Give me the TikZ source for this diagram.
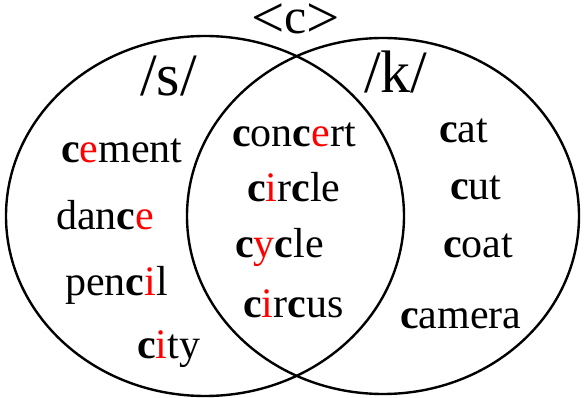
\documentclass[tikz,border=0pt]{standalone}
\usepackage{fontspec,tikz}
\setmainfont{Liberation Serif}
\newcommand{\boldc}{\textbf{c}}
\newcommand{\redl}[1]{\textcolor{red}{#1}}
\newcommand{\bigang}[1]{\raisebox{-4pt}{\fontsize{59.0}{70.8}\selectfont #1}}

\begin{document}
\begin{tikzpicture}[x=1pt,y=-1pt,
  word/.style={anchor=base west,inner sep=0pt,font=\fontsize{42.0}{50.4}\selectfont},
  sound/.style={anchor=base west,inner sep=0pt,font=\fontsize{60.0}{72.0}\selectfont},
  ring/.style={line width=2.4pt}]
\path[use as bounding box] (0,0) rectangle (584.0,398.0);
% the two sets
\draw[ring] (205,216) ellipse [x radius=199, y radius=180];
\draw[ring] (383,216) ellipse [x radius=196, y radius=178];
% headings
\node[word,font=\fontsize{50.0}{60.0}\selectfont] (letter) at (251,34) {\bigang{<}c\bigang{>}};
\node[sound] (soundS) at (140,96) {/s/};
\node[sound] (soundK) at (364,93) {/k/};
% /s/ only
\node[word] (cement) at (61,163) {\boldc\redl{e}ment};
\node[word] (dance) at (56,230) {dan\boldc\redl{e}};
\node[word] (pencil) at (65,295) {pen\boldc\redl{i}l};
\node[word] (city) at (137,358) {\boldc\redl{i}ty};
% both
\node[word] (concert) at (232,147) {\boldc on\boldc\redl{e}rt};
\node[word] (circle) at (247,202) {\boldc\redl{i}r\boldc le};
\node[word] (cycle) at (235,258) {\boldc\redl{y}\boldc le};
\node[word] (circus) at (243,317) {\boldc\redl{i}r\boldc us};
% /k/ only
\node[word] (cat) at (439,143) {\boldc at};
\node[word] (cut) at (450,200) {\boldc ut};
\node[word] (coat) at (443,258) {\boldc oat};
\node[word] (camera) at (400,328) {\boldc amera};
\end{tikzpicture}
\end{document}
